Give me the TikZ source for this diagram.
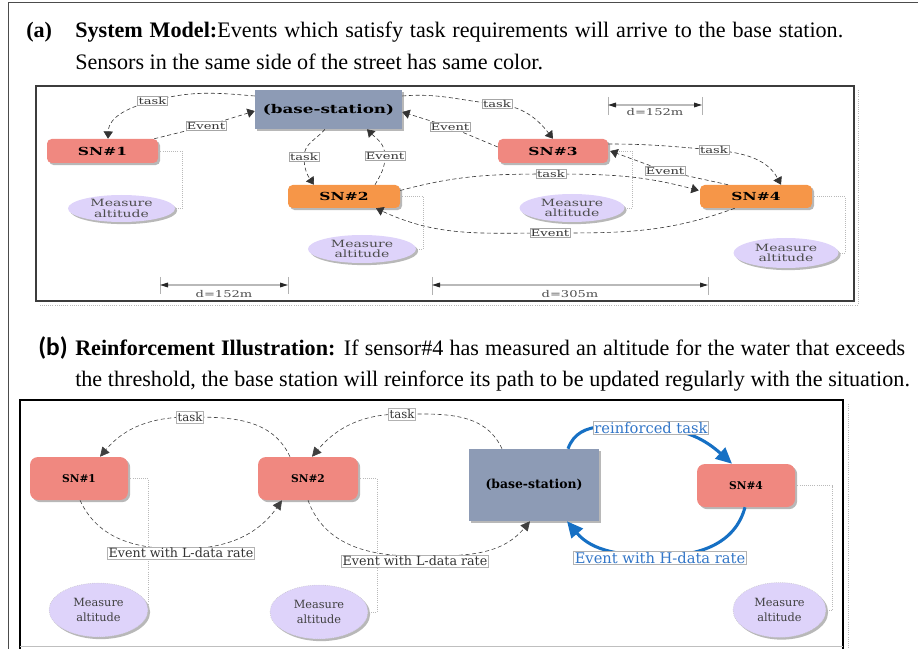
\documentclass[tikz,border=0pt]{standalone}
\usepackage{fontspec}
\setmainfont{Liberation Serif}
\newfontfamily\wserif[FakeStretch=1.4]{DejaVu Serif}
\newfontfamily\dserif{DejaVu Serif}
\newfontfamily\carl{Carlito}
\usetikzlibrary{arrows.meta,shadows,shapes.geometric,calc}
\definecolor{snred}{RGB}{240,136,128}
\definecolor{snorange}{RGB}{246,150,72}
\definecolor{bsgray}{RGB}{141,155,181}
\definecolor{lav}{RGB}{222,211,250}
\definecolor{rblue}{RGB}{22,112,196}
\definecolor{tblue}{RGB}{50,118,200}
\definecolor{framegray}{RGB}{60,60,60}
\tikzset{
  sz/.style 2 args={minimum width=#1*0.75pt,minimum height=#2*0.75pt},
  shad/.style={drop shadow={shadow xshift=1.6pt,shadow yshift=-1.6pt,opacity=0.28,fill=black}},
  snA/.style={shad,rounded corners=3.5pt,inner sep=0pt,font=\wserif\bfseries\fontsize{8.3}{10}\selectfont},
  bsA/.style={shad,inner sep=0pt,fill=bsgray,font=\wserif\bfseries\fontsize{9}{10}\selectfont},
  ellA/.style={shad,ellipse,inner sep=0pt,fill=lav,align=center,text=black!70,font=\wserif\fontsize{7.5}{8}\selectfont},
  lblA/.style={draw=gray!70,fill=white,inner sep=0.7pt,line width=0.4pt,text=black!80,font=\wserif\fontsize{7}{8}\selectfont},
  conA/.style={densely dashed,gray!40!black,line width=0.45pt,-{Triangle[length=5.5pt,width=7pt]}},
  dotline/.style={densely dotted,gray!55,line width=0.6pt},
  dimtick/.style={gray!60,line width=0.7pt},
  dimline/.style={gray!55,line width=0.8pt,{Triangle[length=6pt,width=3.5pt,gray!30!black]}-{Triangle[length=6pt,width=3.5pt,gray!30!black]}},
  dimlbl/.style={inner sep=0pt,text=black!70,font=\wserif\fontsize{7}{8}\selectfont},
  snB/.style={shad,rounded corners=6pt,inner sep=0pt,fill=snred,font=\dserif\bfseries\fontsize{8}{10}\selectfont},
  bsB/.style={shad,inner sep=0pt,fill=bsgray,font=\dserif\bfseries\fontsize{9.3}{10}\selectfont},
  ellB/.style={shad,ellipse,inner sep=0pt,fill=lav,draw=gray!50,densely dotted,align=center,text=black!75,font=\dserif\fontsize{8.5}{11}\selectfont},
  lblB/.style={draw=gray!60,fill=white,inner sep=1pt,line width=0.4pt,text=black!80,font=\dserif\fontsize{9.5}{11}\selectfont},
  lblBt/.style={lblB,font=\dserif\fontsize{8.8}{10}\selectfont},
  lblBlue/.style={draw=gray!60,fill=white,inner sep=0.8pt,line width=0.4pt,text=tblue,font=\dserif\fontsize{11}{12}\selectfont},
  conB/.style={densely dashed,gray!50!black,line width=0.45pt,-{Triangle[length=7pt,width=7pt]}},
  conBlue/.style={rblue,line width=2.3pt,-{Triangle[length=12pt,width=11pt]}},
  captxt/.style={anchor=base west,inner sep=0pt,font=\fontsize{16.6}{19}\selectfont},
}
\begin{document}
\begin{tikzpicture}[x=0.75pt,y=0.75pt]
\useasboundingbox (0,0) rectangle (918,-649);
% outer table lines
\draw[gray!60!black,line width=0.75pt] (8,-649) -- (8,-3) -- (918,-3);

% captions
\node[captxt,font=\fontsize{16.6}{19}\selectfont\bfseries] (capa) at (26,-38) {(a)};
\node[captxt] (l1a) at (75,-38) {\makebox[576pt][s]{\textbf{System Model:}Events which satisfy task requirements will arrive to the base station.}};
\node[captxt] (l2a) at (75,-70) {Sensors in the same side of the street has same color.};
\node[captxt,font=\carl\bfseries\fontsize{19}{22}\selectfont] (capb) at (38,-355) {(b)};
\node[captxt] (l1b) at (75,-355) {\makebox[622.5pt][s]{\textbf{Reinforcement Illustration:} If sensor\#4 has measured an altitude for the water that exceeds}};
\node[captxt] (l2b) at (75,-386) {\makebox[626pt][s]{the threshold, the base station will reinforce its path to be updated regularly with the situation.}};

% ===== panel a =====
\draw[dotline] (858,-90) -- (858,-305) -- (40,-305);
\draw[framegray,line width=2.2pt] (36,-86) rectangle (854,-301);

\node[bsA,sz={147}{39}] (bsA) at (328.5,-109.5) {(base-station)};
\node[snA,fill=snred,sz={111}{24}] (sn1A) at (102.5,-151) {SN\#1};
\node[snA,fill=snorange,sz={112}{23}] (sn2A) at (344,-196.5) {SN\#2};
\node[snA,fill=snred,sz={110}{24}] (sn3A) at (553,-151) {SN\#3};
\node[snA,fill=snorange,sz={112}{23}] (sn4A) at (756,-196.5) {SN\#4};
\node[ellA,sz={107}{27}] (e1A) at (121.5,-208.5) {Measure\\altitude};
\node[ellA,sz={105}{28}] (e3A) at (572,-208) {Measure\\altitude};
\node[ellA,sz={108}{28}] (e2A) at (362,-249) {Measure\\altitude};
\node[ellA,sz={105}{30}] (e4A) at (786,-253) {Measure\\altitude};

\draw[dotline] (sn1A.east) -- ++(24,0) |- (e1A.east);
\draw[dotline] (sn3A.east) -- ++(24,0) |- (e3A.east);
\draw[dotline] (sn2A.east) -- ++(23,0) |- (e2A.east);
\draw[dotline] (sn4A.east) -- ++(33,0) |- (e4A.east);

\coordinate (Lt1) at (152.5,-101);
\coordinate (Le1) at (206,-126);
\coordinate (Lt2) at (304,-157);
\coordinate (Le2) at (385,-156);
\coordinate (Lt3) at (497,-104);
\coordinate (Le3) at (450,-127);
\coordinate (Lt4) at (714,-150);
\coordinate (Le4) at (665,-171);
\coordinate (Lt5) at (551,-174);
\coordinate (Le5) at (550,-233);

\draw[conA] (bsA.west |- 0,-96) to[out=175,in=15] (Lt1) to[out=195,in=88] (108,0 |- sn1A.north);
\draw[conA] ($(sn1A.north east)+(-4,0)$) -- (Le1) -- (bsA.west |- 0,-111);
\draw[conA] (325,0 |- bsA.south) to[out=230,in=90] (Lt2) to[out=-90,in=125] (314,0 |- sn2A.north);
\draw[conA] (375,0 |- sn2A.north) to[out=60,in=-90] (Le2) to[out=90,in=-45] (367,0 |- bsA.south);
\draw[conA] (bsA.east |- 0,-96) to[out=5,in=175] (Lt3) to[out=-5,in=128] (553,0 |- sn3A.north);
\draw[conA] ($(sn3A.west)+(0,4)$) -- (Le3) -- (bsA.east |- 0,-112);
\draw[conA] ($(sn3A.east)+(0,7)$) to[out=0,in=175] (Lt4) to[out=-5,in=118] (781,0 |- sn4A.north);
\draw[conA] (728,0 |- sn4A.north) -- (Le4) -- ($(sn3A.east)+(2,0)$);
\draw[conA] ($(sn2A.east)+(0,6)$) to[out=15,in=180] (Lt5) to[out=0,in=165] ($(sn4A.west)+(-1,6)$);
\draw[conA] ($(sn4A.south west)+(35,0)$) to[out=200,in=0] (Le5) to[out=180,in=-25] ($(sn2A.south)+(32,0)$);

\node[lblA] (t1) at (Lt1) {task};
\node[lblA] (ev1) at (Le1) {Event};
\node[lblA] (t2) at (Lt2) {task};
\node[lblA] (ev2) at (Le2) {Event};
\node[lblA] (t3) at (Lt3) {task};
\node[lblA] (ev3) at (Le3) {Event};
\node[lblA] (t4) at (Lt4) {task};
\node[lblA] (ev4) at (Le4) {Event};
\node[lblA] (t5) at (Lt5) {task};
\node[lblA] (ev5) at (Le5) {Event};

% dimensions
\coordinate (d1a) at (608,-105); \coordinate (d1b) at (702,-105);
\draw[dimtick] (608,-97) -- (608,-115); \draw[dimtick] (702,-97) -- (702,-115);
\draw[dimline] (d1a) -- (d1b);
\node[dimlbl] (d1l) at (655,-112) {d=152m};
\coordinate (d2a) at (160,-285); \coordinate (d2b) at (288,-285);
\draw[dimtick] (160,-277) -- (160,-294); \draw[dimtick] (288,-277) -- (288,-294);
\draw[dimline] (d2a) -- (d2b);
\node[dimlbl] (d2l) at (224,-294) {d=152m};
\coordinate (d3a) at (432,-285); \coordinate (d3b) at (708,-285);
\draw[dimtick] (432,-277) -- (432,-295); \draw[dimtick] (708,-277) -- (708,-295);
\draw[dimline] (d3a) -- (d3b);
\node[dimlbl] (d3l) at (570,-294) {d=305m};

% ===== panel b =====
\draw[dotline] (848,-404) -- (848,-649);
\draw[line width=1.8pt] (20,-649) -- (20,-400) -- (843,-400) -- (843,-649);
\draw[gray!50,line width=0.6pt] (20,-646.5) -- (843,-646.5);

\node[bsB,sz={130}{72}] (bsB) at (534,-485) {(base-station)};
\node[snB,sz={98}{43}] (sn1B) at (79,-478.5) {SN\#1};
\node[snB,sz={100}{43}] (sn2B) at (308,-478.5) {SN\#2};
\node[snB,sz={98}{43}] (sn4B) at (746,-485.5) {SN\#4};
\node[ellB,sz={99}{54}] (e1B) at (98.5,-610) {Measure\\altitude};
\node[ellB,sz={98}{54}] (e2B) at (319,-612) {Measure\\altitude};
\node[ellB,sz={93}{55}] (e4B) at (779.5,-610) {Measure\\altitude};

\draw[dotline] (sn1B.east) -| (e1B.east);
\draw[dotline] (sn2B.east) -- ++(19,0) |- (e2B.east);
\draw[dotline] (sn4B.east) -- ++(37,0) |- (e4B.east);

\coordinate (Ltb1) at (190,-417);
\coordinate (Leb1) at (181,-549);
\coordinate (Ltb2) at (402,-414);
\coordinate (Leb2) at (415,-556);
\coordinate (Lrt) at (651,-428);
\coordinate (Leh) at (660,-556);

\draw[conB] (290,0 |- sn2B.north) to[out=115,in=0] (Ltb1) to[out=180,in=50] (100,0 |- sn1B.north);
\draw[conB] (80,0 |- sn1B.south) to[out=-65,in=180] (Leb1) to[out=0,in=-125] (282,0 |- sn2B.south);
\draw[conB] (502,0 |- bsB.north) to[out=115,in=0] (Ltb2) to[out=180,in=50] (312,0 |- sn2B.north);
\draw[conB] (308,0 |- sn2B.south) to[out=-70,in=180] (Leb2) to[out=0,in=-130] (530,0 |- bsB.south);
\draw[conBlue] (568,0 |- bsB.north) to[out=70,in=180] (Lrt) to[out=0,in=138] (732,0 |- sn4B.north);
\draw[conBlue] (745,0 |- sn4B.south) to[out=-105,in=0] (Leh) to[out=180,in=-50] (567,0 |- bsB.south);

\node[lblBt] (tb1) at (Ltb1) {task};
\node[lblB] (eb1) at (181,-553) {Event with L-data rate};
\node[lblBt] (tb2) at (Ltb2) {task};
\node[lblB] (eb2) at (415,-561) {Event with L-data rate};
\node[lblBlue] (rt) at (Lrt) {reinforced task};
\node[lblBlue] (eh) at (660,-558) {Event with H-data rate};
\end{tikzpicture}
\end{document}
